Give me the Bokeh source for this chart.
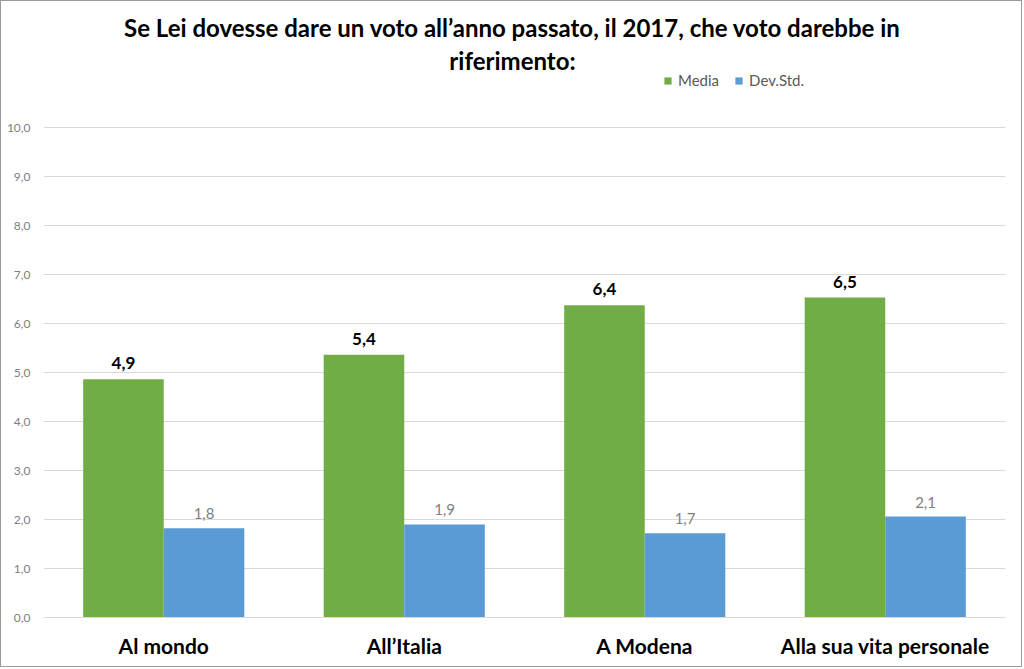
from bokeh.plotting import figure
from bokeh.models import (FactorRange, Range1d, ColumnDataSource, Legend, LegendItem,
                          Label, LabelSet, CustomJSTickFormatter, FixedTicker)
from bokeh.core.properties import value
from bokeh.transform import dodge
from bokeh.embed import file_html
from bokeh.resources import INLINE

categories = ["Al mondo", "All\u2019Italia", "A Modena", "Alla sua vita personale"]
media = [4.86, 5.36, 6.37, 6.53]
dev_std = [1.82, 1.90, 1.72, 2.06]
series_names = ["Media", "Dev.Std."]
y_ticks = [0, 1, 2, 3, 4, 5, 6, 7, 8, 9, 10]
title_lines = ["Se Lei dovesse dare un voto all\u2019anno passato, il 2017, che voto darebbe in",
               "riferimento:"]

GREEN = "#70ad47"
BLUE = "#5b9bd5"
FONT = "Lato"

def fmt(v):
    return f"{v:.1f}".replace(".", ",")

src = ColumnDataSource(dict(
    cat=categories, media=media, dev=dev_std,
    media_lbl=[fmt(v) for v in media], dev_lbl=[fmt(v) for v in dev_std],
))

W, H = 1022, 667
# frame spans from canvas top to the zero line; 490 px per 10 units
y_top = 10 * 616 / 490.0
p = figure(width=W, height=H, x_range=FactorRange(factors=categories),
           y_range=Range1d(0, y_top), output_backend="svg", toolbar_location=None,
           min_border_left=42, min_border_right=18, min_border_top=0, min_border_bottom=51)
p.styles = {"border": "1px solid #9a9a9a"}
p.outline_line_color = None
p.background_fill_color = "white"
p.border_fill_color = "white"

bw = 0.335
r1 = p.vbar(x=dodge("cat", -bw / 2, range=p.x_range), top="media", width=bw, source=src,
            fill_color=GREEN, line_color=None)
r2 = p.vbar(x=dodge("cat", bw / 2, range=p.x_range), top="dev", width=bw, source=src,
            fill_color=BLUE, line_color=None)

p.add_layout(LabelSet(x=dodge("cat", -bw / 2, range=p.x_range), y="media", text="media_lbl",
                      source=src, y_offset=10, text_align="center", text_baseline="bottom",
                      text_font=value(FONT), text_font_style="bold", text_font_size="17px",
                      text_color="#000000"))
p.add_layout(LabelSet(x=dodge("cat", bw / 2, range=p.x_range), y="dev", text="dev_lbl",
                      source=src, y_offset=9, text_align="center", text_baseline="bottom",
                      text_font=value(FONT), text_font_size="15px", text_color="#7f7f7f"))

p.yaxis.ticker = FixedTicker(ticks=y_ticks)
p.yaxis.formatter = CustomJSTickFormatter(code="return tick.toFixed(1).replace('.', ',');")
p.yaxis.axis_line_color = None
p.yaxis.major_tick_line_color = None
p.yaxis.minor_tick_line_color = None
p.yaxis.major_label_text_font = FONT
p.yaxis.major_label_text_font_size = "12px"
p.yaxis.major_label_text_color = "#808080"
p.yaxis.major_label_standoff = 7

p.xaxis.axis_line_color = "#d9d9d9"
p.xaxis.major_tick_line_color = None
p.xaxis.minor_tick_line_color = None
p.xaxis.major_label_text_font = FONT
p.xaxis.major_label_text_font_style = "bold"
p.xaxis.major_label_text_font_size = "21px"
p.xaxis.major_label_text_color = "#000000"
p.xaxis.major_label_standoff = 9

p.xgrid.grid_line_color = None
p.ygrid.grid_line_color = "#d9d9d9"
p.ygrid.grid_line_width = 1

legend = Legend(items=[LegendItem(label=series_names[0], renderers=[r1]),
                       LegendItem(label=series_names[1], renderers=[r2])],
                orientation="horizontal", location=(620, 528),
                label_text_font=FONT, label_text_font_size="15px", label_text_color="#595959",
                glyph_width=9, glyph_height=9, spacing=15, padding=0, margin=0,
                label_standoff=6, border_line_color=None, background_fill_alpha=0)
p.add_layout(legend, "center")

for t, yy in zip(title_lines, [590, 557]):
    p.add_layout(Label(x=469, y=yy, x_units="screen", y_units="screen", text=t,
                       text_align="center", text_baseline="middle", text_font=FONT,
                       text_font_style="bold", text_font_size="24px", text_color="#000000"))

open("out.html", "w").write(file_html(p, INLINE))
